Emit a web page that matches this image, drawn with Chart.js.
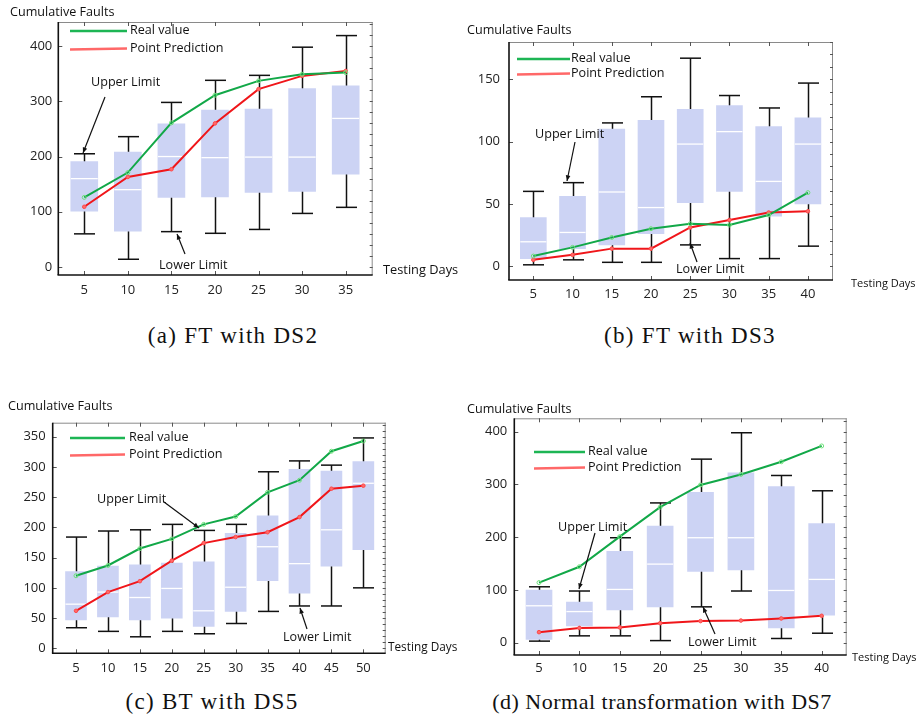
<!DOCTYPE html>
<html>
<head>
<meta charset="utf-8">
<script src="https://cdn.jsdelivr.net/npm/chart.js@4.4.1/dist/chart.umd.min.js"></script>
<style>
  html, body { margin: 0; padding: 0; background: #fff; }
  body { width: 917px; height: 727px; position: relative; overflow: hidden; }
  .panel { position: absolute; }
  .panel canvas { display: block; }
  .cap {
    position: absolute; text-align: center; white-space: nowrap;
    font-family: "Liberation Serif", "DejaVu Serif", serif;
    font-size: 23px; letter-spacing: 1.3px; color: #111; line-height: 26px;
  }
  .cap.long { font-size: 22px; letter-spacing: 0.5px; }
</style>
</head>
<body>
<div class="panel" style="left:0;top:0"><canvas id="chartA" width="458" height="305"></canvas></div>
<div class="panel" style="left:458px;top:0"><canvas id="chartB" width="459" height="305"></canvas></div>
<div class="panel" style="left:0;top:390px"><canvas id="chartC" width="458" height="290"></canvas></div>
<div class="panel" style="left:458px;top:390px"><canvas id="chartD" width="459" height="290"></canvas></div>

<div class="cap" style="left:0;top:323px;width:466px">(a) FT with DS2</div>
<div class="cap" style="left:458px;top:323px;width:464px">(b) FT with DS3</div>
<div class="cap" style="left:0;top:689px;width:424px">(c) BT with DS5</div>
<div class="cap long" style="left:458px;top:689px;width:408px">(d) Normal transformation with DS7</div>

<script>
// ---------- (a) FT with DS2 ----------
const daysA  = [5, 10, 15, 20, 25, 30, 35];
const realA  = [126, 171, 261, 311, 337, 349, 352];
const predA  = [109, 163, 177, 260, 322, 346, 355];
const lowA   = [60, 14, 64, 61, 68, 97, 108];
const q1A    = [101, 65, 126, 127, 135, 137, 168];
const medA   = [160, 140, 200, 198, 199, 199, 269];
const q3A    = [191, 208, 259, 284, 286, 323, 328];
const highA  = [205, 236, 298, 338, 347, 398, 419];
const yTicksA = [0, 100, 200, 300, 400];

// ---------- (b) FT with DS3 ----------
const daysB  = [5, 10, 15, 20, 25, 30, 35, 40];
const realB  = [8, 15, 23, 30, 34, 33, 41, 59];
const predB  = [5, 9, 14, 14, 31, 37, 43, 44];
const lowB   = [1, 5, 3, 3, 17, 6, 6, 16];
const q1B    = [6, 14, 17, 26, 51, 60, 40, 50];
const medB   = [19.5, 27, 59.5, 47, 98, 108, 68, 98];
const q3B    = [39, 56, 110, 117, 126, 129, 112, 119];
const highB  = [60, 67, 115, 136, 167, 137, 127, 147];
const yTicksB = [0, 50, 100, 150];

// ---------- (c) BT with DS5 ----------
const daysC  = [5, 10, 15, 20, 25, 30, 35, 40, 45, 50];
const realC  = [120, 137, 165, 181, 205, 218, 258, 278, 326, 343];
const predC  = [62, 93, 111, 145, 174, 184, 192, 217, 264, 269];
const lowC   = [34, 28, 19, 28, 24, 41, 61, 70, 70, 100];
const q1C    = [47, 52, 47, 50, 36, 61, 112, 91, 136, 163];
const medC   = [73, 93, 84, 99, 62, 101, 168, 140, 196, 273];
const q3C    = [127, 136, 138, 141, 143, 190, 219, 296, 293, 309];
const highC  = [184, 194, 196, 205, 195, 205, 292, 310, 303, 348];
const yTicksC = [0, 50, 100, 150, 200, 250, 300, 350];

// ---------- (d) Normal transformation with DS7 ----------
const daysD  = [5, 10, 15, 20, 25, 30, 35, 40];
const realD  = [114, 144, 201, 257, 299, 319, 343, 373];
const predD  = [20, 28, 29, 37, 41, 42, 46, 51];
const lowD   = [3, 13, 13, 4, 68, 98, 8, 18];
const q1D    = [6, 32, 62, 68, 135, 138, 28, 52];
const medD   = [70, 59, 101, 149, 199, 199, 99, 120];
const q3D    = [100, 77, 173, 221, 285, 322, 296, 226];
const highD  = [106, 98, 199, 265, 348, 398, 317, 288];
const yTicksD = [0, 100, 200, 300, 400];

const SANS = '"Open Sans", "Liberation Sans", Arial, sans-serif';
const BOX_FILL = '#ccd3f4';
const GREEN = '#12a848';
const RED = '#f0161a';

// Layout of each panel: canvas-relative plot rectangle, axis ranges and text placement.
const panels = [
  {
    id: 'chartA', days: daysA, real: realA, pred: predA,
    low: lowA, q1: q1A, med: medA, q3: q3A, high: highA, yTicks: yTicksA,
    area: { L: 58.3, T: 22, R: 372.7, B: 275 }, x: [2.02, 38.1], y: [-14.5, 443.6],
    barW: 27, xPad: 7, yPad: 6,
    legend: { x1: 70, x2: 127, y1: 31, y2: 49, tx: 130 },
    yTitle: { x: 10, y: 12 }, xTitle: { x: 383, y: 270, size: 12.8 },
    notes: [
      { text: 'Upper Limit', tx: 91, ty: 82, from: [105, 97], to: [83, 153] },
      { text: 'Lower Limit', tx: 159, ty: 265, from: [185, 254], to: [177, 234] }
    ]
  },
  {
    id: 'chartB', days: daysB, real: realB, pred: predB,
    low: lowB, q1: q1B, med: medB, q3: q3B, high: highB, yTicks: yTicksB,
    area: { L: 51, T: 42, R: 375, B: 280 }, x: [1.9, 43.2], y: [-11.2, 180],
    barW: 26, xPad: 6, yPad: 9,
    legend: { x1: 59, x2: 112, y1: 59, y2: 74, tx: 113 },
    yTitle: { x: 9, y: 30 }, xTitle: { x: 393, y: 284, size: 11 },
    notes: [
      { text: 'Upper Limit', tx: 77, ty: 134, from: [117, 142], to: [109, 181] },
      { text: 'Lower Limit', tx: 218, ty: 269, from: [239, 262], to: [232, 243] }
    ]
  },
  {
    id: 'chartC', days: daysC, real: realC, pred: predC,
    low: lowC, q1: q1C, med: medC, q3: q3C, high: highC, yTicks: yTicksC,
    area: { L: 52.7, T: 32.7, R: 385.7, B: 263.3 }, x: [1.35, 53.5], y: [-8.3, 373.2],
    barW: 21, xPad: 7, yPad: 7,
    legend: { x1: 70, x2: 125, y1: 48, y2: 65, tx: 129 },
    yTitle: { x: 8, y: 16 }, xTitle: { x: 388, y: 258, size: 11.8 },
    notes: [
      { text: 'Upper Limit', tx: 97, ty: 109, from: [164, 112], to: [199, 138] },
      { text: 'Lower Limit', tx: 283, ty: 247, from: [307, 239], to: [300, 218] }
    ]
  },
  {
    id: 'chartD', days: daysD, real: realD, pred: predD,
    low: lowD, q1: q1D, med: medD, q3: q3D, high: highD, yTicks: yTicksD,
    area: { L: 56.3, T: 28.3, R: 388.7, B: 265 }, x: [1.94, 43.1], y: [-23.3, 425.4],
    barW: 26, xPad: 5, yPad: 7,
    legend: { x1: 76, x2: 127, y1: 62, y2: 78, tx: 130 },
    yTitle: { x: 9, y: 19 }, xTitle: { x: 394, y: 268, size: 11 },
    notes: [
      { text: 'Upper Limit', tx: 100, ty: 137, from: [137, 143], to: [121, 199] },
      { text: 'Lower Limit', tx: 230, ty: 252, from: [257, 244], to: [245, 217] }
    ]
  }
];

const Y_AXIS_W = 44;
const X_AXIS_H = 22;
const TEXT_SIZE = 12.6;
const TICK_SIZE = 13;

function line(ctx, x1, y1, x2, y2) {
  ctx.beginPath(); ctx.moveTo(x1, y1); ctx.lineTo(x2, y2); ctx.stroke();
}

function arrow(ctx, from, to) {
  ctx.save();
  ctx.strokeStyle = '#111'; ctx.fillStyle = '#111'; ctx.lineWidth = 1.2;
  line(ctx, from[0], from[1], to[0], to[1]);
  const a = Math.atan2(to[1] - from[1], to[0] - from[0]);
  const s = 6;
  ctx.beginPath();
  ctx.moveTo(to[0], to[1]);
  ctx.lineTo(to[0] - s * Math.cos(a - 0.4), to[1] - s * Math.sin(a - 0.4));
  ctx.lineTo(to[0] - s * Math.cos(a + 0.4), to[1] - s * Math.sin(a + 0.4));
  ctx.closePath(); ctx.fill();
  ctx.restore();
}

function decorations(p) {
  return {
    id: 'boxDecor',
    // whiskers sit behind the boxes
    beforeDatasetDraw(chart, args) {
      if (chart.getDatasetMeta(args.index).type !== 'bar') return;
      const { ctx, scales: { x, y } } = chart;
      ctx.save();
      ctx.strokeStyle = '#111'; ctx.lineWidth = 1.5;
      p.days.forEach((d, i) => {
        const px = Math.round(x.getPixelForValue(d)) + 0.5;
        const yl = y.getPixelForValue(p.low[i]);
        const yh = y.getPixelForValue(p.high[i]);
        line(ctx, px, yl, px, yh);
        line(ctx, px - 10.5, yl, px + 10.5, yl);
        line(ctx, px - 10.5, yh, px + 10.5, yh);
      });
      ctx.restore();
    },
    // white medians on top of the boxes
    afterDatasetDraw(chart, args) {
      if (chart.getDatasetMeta(args.index).type !== 'bar') return;
      const { ctx, scales: { x, y } } = chart;
      ctx.save();
      ctx.strokeStyle = '#ffffff'; ctx.lineWidth = 1.3;
      p.days.forEach((d, i) => {
        const px = x.getPixelForValue(d);
        const py = y.getPixelForValue(p.med[i]);
        line(ctx, px - p.barW / 2, py, px + p.barW / 2, py);
      });
      ctx.restore();
    },
    afterDraw(chart) {
      const { ctx, chartArea: a, scales: { x, y } } = chart;
      ctx.save();
      // frame
      ctx.strokeStyle = '#8a8a8a'; ctx.lineWidth = 1;
      line(ctx, a.left, a.top + 0.5, a.right, a.top + 0.5);
      line(ctx, a.right - 0.5, a.top, a.right - 0.5, a.bottom);
      // tick marks along the frame
      ctx.strokeStyle = '#555';
      p.days.forEach(d => {
        const px = Math.round(x.getPixelForValue(d)) + 0.5;
        line(ctx, px, a.top, px, a.top + 4);
        line(ctx, px, a.bottom, px, a.bottom - 4);
      });
      const step = p.yTicks[1] - p.yTicks[0];
      for (let v = p.yTicks[0]; v <= y.max; v += step / 5) {
        const py = Math.round(y.getPixelForValue(v)) + 0.5;
        line(ctx, a.right, py, a.right - 3, py);
      }
      p.yTicks.forEach(v => {
        const py = Math.round(y.getPixelForValue(v)) + 0.5;
        line(ctx, a.left, py, a.left + 4, py);
      });
      // axes
      ctx.strokeStyle = '#111'; ctx.lineWidth = 1.6;
      line(ctx, a.left, a.top, a.left, a.bottom);
      line(ctx, a.left - 0.8, a.bottom, a.right, a.bottom);

      // legend
      const L = p.legend;
      ctx.lineWidth = 2.4;
      ctx.strokeStyle = '#1db554';
      line(ctx, L.x1, L.y1, L.x2, L.y1);
      ctx.strokeStyle = '#ff6868';
      line(ctx, L.x1, L.y2 + 0.5, L.x2, L.y2 - 0.5);
      ctx.fillStyle = '#111';
      ctx.font = TEXT_SIZE + 'px ' + SANS;
      ctx.textBaseline = 'middle'; ctx.textAlign = 'left';
      ctx.fillText('Real value', L.tx, L.y1 - 1);
      ctx.fillText('Point Prediction', L.tx, L.y2 - 1);

      // axis titles
      ctx.fillText('Cumulative Faults', p.yTitle.x, p.yTitle.y);
      ctx.font = p.xTitle.size + 'px ' + SANS;
      ctx.fillText('Testing Days', p.xTitle.x, p.xTitle.y);

      // limit annotations
      ctx.font = TEXT_SIZE + 'px ' + SANS;
      p.notes.forEach(n => {
        ctx.fillStyle = '#111';
        ctx.fillText(n.text, n.tx, n.ty);
        arrow(ctx, n.from, n.to);
      });
      ctx.restore();
    }
  };
}

function build(p) {
  const canvas = document.getElementById(p.id);
  const W = canvas.width, H = canvas.height;
  const pts = arr => p.days.map((d, i) => ({ x: d, y: arr[i] }));
  new Chart(canvas, {
    type: 'bar',
    data: {
      datasets: [
        {
          type: 'line', label: 'Real value', data: pts(p.real),
          borderColor: GREEN, borderWidth: 2, tension: 0,
          pointRadius: 2, pointBorderWidth: 1, pointBackgroundColor: 'rgba(0,0,0,0)',
          pointBorderColor: '#6ee27a'
        },
        {
          type: 'line', label: 'Point Prediction', data: pts(p.pred),
          borderColor: RED, borderWidth: 2, tension: 0,
          pointRadius: 1.8, pointBorderWidth: 1, pointBackgroundColor: '#ff6a6a',
          pointBorderColor: '#ff4a4a'
        },
        {
          type: 'bar', label: 'Interval',
          data: p.days.map((d, i) => ({ x: d, y: [p.q1[i], p.q3[i]] })),
          backgroundColor: BOX_FILL, borderWidth: 0, borderSkipped: false,
          barThickness: p.barW
        }
      ]
    },
    options: {
      responsive: false, animation: false, devicePixelRatio: 1,
      layout: {
        padding: {
          left: p.area.L - Y_AXIS_W, top: p.area.T,
          right: W - p.area.R, bottom: H - p.area.B - X_AXIS_H
        }
      },
      plugins: { legend: { display: false }, tooltip: { enabled: false } },
      scales: {
        x: {
          type: 'linear', min: p.x[0], max: p.x[1], offset: false,
          grid: { display: false, drawTicks: false, offset: false }, border: { display: false },
          afterBuildTicks: s => { s.ticks = p.days.map(v => ({ value: v })); },
          afterFit: s => { s.height = X_AXIS_H; },
          ticks: { color: '#222', font: { family: SANS, size: TICK_SIZE }, padding: p.xPad, maxRotation: 0, autoSkip: false }
        },
        y: {
          type: 'linear', min: p.y[0], max: p.y[1],
          grid: { display: false, drawTicks: false }, border: { display: false },
          afterBuildTicks: s => { s.ticks = p.yTicks.map(v => ({ value: v })); },
          afterFit: s => { s.width = Y_AXIS_W; },
          ticks: { color: '#222', font: { family: SANS, size: TICK_SIZE }, padding: p.yPad }
        }
      }
    },
    plugins: [decorations(p)]
  });
}

panels.forEach(build);
</script>
</body>
</html>
